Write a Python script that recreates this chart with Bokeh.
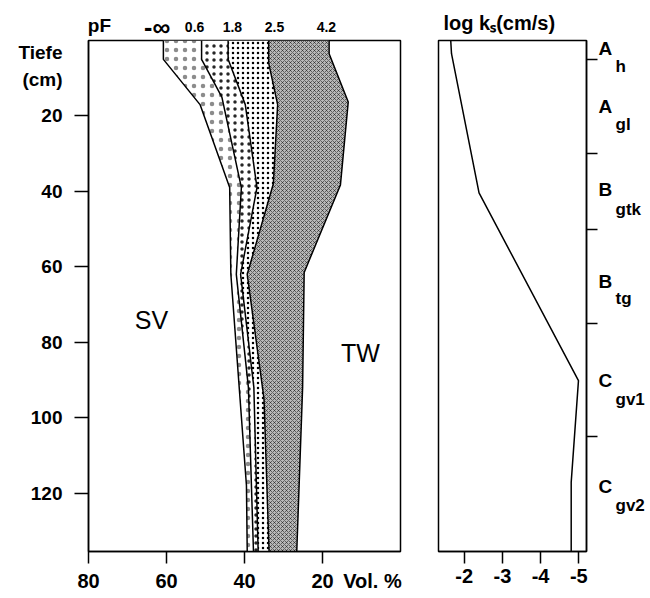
from bokeh.plotting import figure
from bokeh.models import Range1d, FixedTicker, Label, LinearAxis
from bokeh.layouts import row
from bokeh.embed import file_html
from bokeh.resources import INLINE

# ---------------- data ----------------
pf_numbers = ["0.6", "1.8", "2.5", "4.2"]
x_ticks_vol = [80, 60, 40, 20]
y_ticks_depth = [20, 40, 60, 80, 100, 120]

depth_inf = [0, 5, 17, 39, 62, 118, 135.5]
vol_inf = [60.8, 60.8, 51.4, 43.8, 43.5, 39.5, 39.3]
depth_06 = [0, 5, 15, 39, 62, 92, 135.5]
vol_06 = [51.0, 51.0, 45.8, 40.8, 42.1, 39.0, 37.7]
depth_18 = [0, 5, 17, 39, 62, 92, 135.5]
vol_18 = [44.2, 44.2, 39.8, 36.8, 41.0, 37.6, 36.5]
depth_25 = [0, 6, 17, 38, 62, 95, 135.5]
vol_25 = [33.8, 33.8, 31.5, 32.6, 39.3, 35.0, 33.7]
depth_42 = [0, 3.5, 16.3, 38.3, 61.5, 92, 135.5]
vol_42 = [18.3, 18.3, 13.4, 15.4, 24.7, 25.1, 26.6]

ks_depth = [0, 3.5, 40.4, 90.2, 117.1, 135.5]
ks_log = [-1.65, -1.67, -2.39, -4.99, -4.80, -4.80]
ks_ticks = [-2, -3, -4, -5]

horizon_bounds = [5, 30, 50, 75, 105]
horizon_main = ["A", "A", "B", "B", "C", "C"]
horizon_sub = ["h", "gl", "gtk", "tg", "gv1", "gv2"]

FONT = "Liberation Sans"

def style_axis(ax, size="20px"):
    ax.major_tick_in = 0
    ax.minor_tick_in = 0
    ax.axis_line_color = "black"
    ax.axis_line_width = 1.5
    ax.major_tick_line_width = 1.5
    ax.minor_tick_line_width = 1.5
    ax.major_tick_line_color = None
    ax.minor_tick_line_color = "black"
    ax.major_label_text_font = FONT
    ax.major_label_text_font_style = "bold"
    ax.major_label_text_font_size = size
    ax.major_label_text_color = "black"

def header_axis(positions, texts, size, standoff):
    ax = LinearAxis(ticker=FixedTicker(ticks=positions),
                    major_label_overrides=dict(zip(positions, texts)))
    style_axis(ax, size)
    ax.axis_line_color = None
    ax.major_tick_out = 0
    ax.minor_tick_out = 0
    ax.major_label_standoff = standoff
    return ax

# ---------------- left panel ----------------
W1, H = 420, 598
p1 = figure(width=W1, height=H, output_backend="svg", toolbar_location=None,
            x_range=Range1d(80, 0), y_range=Range1d(135.5, 0),
            min_border_left=88, min_border_right=20, min_border_top=40, min_border_bottom=44)
p1.grid.visible = False
p1.outline_line_color = "black"
p1.outline_line_width = 1.5
p1.background_fill_color = "white"
p1.border_fill_color = "white"

bands = [
    (vol_inf, depth_inf, vol_06, depth_06, "white", "dot", 9, 0.45),
    (vol_06, depth_06, vol_18, depth_18, "white", "dot", 7, 0.85),
    (vol_18, depth_18, vol_25, depth_25, "white", "dot", 5, 1.0),
    (vol_25, depth_25, vol_42, depth_42, "#b8b8b8", "diagonal_cross", 4, 0.6),
]
for xa, ya, xb, yb, fc, hp, hs, ha in bands:
    xs = list(xa) + list(reversed(xb))
    ys = list(ya) + list(reversed(yb))
    p1.patch(x=xs, y=ys, fill_color=fc, line_color=None,
             hatch_pattern=hp, hatch_scale=hs, hatch_color="black",
             hatch_alpha=ha, hatch_weight=0.8)

for xv, yv in [(vol_inf, depth_inf), (vol_06, depth_06), (vol_18, depth_18),
               (vol_25, depth_25), (vol_42, depth_42)]:
    p1.line(x=xv, y=yv, line_color="black", line_width=1.5)

# bottom axis: tick marks drawn as minor ticks, "Vol. %" as an extra label
xax = p1.xaxis[0]
style_axis(xax)
xax.ticker = FixedTicker(ticks=x_ticks_vol + [7.2], minor_ticks=x_ticks_vol)
xax.major_label_overrides = {**{t: str(t) for t in x_ticks_vol}, 7.2: "Vol. %"}
xax.major_tick_out = 12
xax.minor_tick_out = 12
xax.major_label_standoff = 6

# left axis: tick marks as minor ticks, "Tiefe (cm)" as extra labels
yax = p1.yaxis[0]
style_axis(yax, "19px")
yax.ticker = FixedTicker(ticks=[3.3, 10.4] + y_ticks_depth, minor_ticks=y_ticks_depth)
yax.major_label_overrides = {**{t: str(t) for t in y_ticks_depth}, 3.3: "Tiefe", 10.4: "(cm)"}
yax.major_tick_out = 14
yax.minor_tick_out = 14
yax.major_label_standoff = 12

# top header: pF values, three stacked header axes brought onto one line
p1.add_layout(header_axis([77.2], ["pF"], "19px", 5), "above")
p1.add_layout(header_axis([62.4], ["-\u221e"], "25px", -29), "above")
p1.add_layout(header_axis([52.8, 43.1, 32.3, 19.0], pf_numbers, "14px", -22), "above")

def d1(px, py):
    return 80 - (px - 88) * 80 / 312.0, (py - 40) * 135.5 / 514.0

for txt, (px, py) in [("SV", (151, 321)), ("TW", (360, 354))]:
    x, y = d1(px, py)
    p1.add_layout(Label(x=x, y=y, text=txt, text_font=FONT, text_font_size="25px",
                        text_align="center", text_baseline="middle", text_color="black"))

# ---------------- right panel ----------------
W2 = 650 - W1
p2 = figure(width=W2, height=H, output_backend="svg", toolbar_location=None,
            x_range=Range1d(-1.33, -5.2), y_range=Range1d(135.5, 0),
            min_border_left=18, min_border_right=64, min_border_top=39, min_border_bottom=47,
            y_axis_location="right")
p2.grid.visible = False
p2.outline_line_color = "black"
p2.outline_line_width = 1.5
p2.background_fill_color = "white"
p2.border_fill_color = "white"

p2.line(x=ks_log, y=ks_depth, line_color="black", line_width=1.5)

xa2 = p2.xaxis[0]
style_axis(xa2)
xa2.ticker = FixedTicker(ticks=ks_ticks, minor_ticks=ks_ticks)
xa2.major_label_overrides = {t: str(t) for t in ks_ticks}
xa2.major_tick_out = 12
xa2.minor_tick_out = 12
xa2.major_label_standoff = 5

def depth2(py):
    return (py - 39) * 135.5 / 512.0

main_depth = [depth2(v) for v in [47, 105, 188, 280, 380, 486]]
sub_depth = [depth2(v) for v in [65, 123, 208, 298, 399, 505]]

ya2 = p2.yaxis[0]
style_axis(ya2, "19px")
ya2.ticker = FixedTicker(ticks=main_depth, minor_ticks=horizon_bounds)
ya2.major_label_overrides = dict(zip(main_depth, horizon_main))
ya2.major_tick_out = 11
ya2.minor_tick_out = 11
ya2.major_label_standoff = 1

ya3 = header_axis(sub_depth, horizon_sub, "17px", 0)
p2.add_layout(ya3, "right")

p2.add_layout(header_axis([-2.92], ["log k\u209b(cm/s)"], "20px", 7), "above")

layout = row(p1, p2)
open("out.html", "w").write(file_html(layout, INLINE))
